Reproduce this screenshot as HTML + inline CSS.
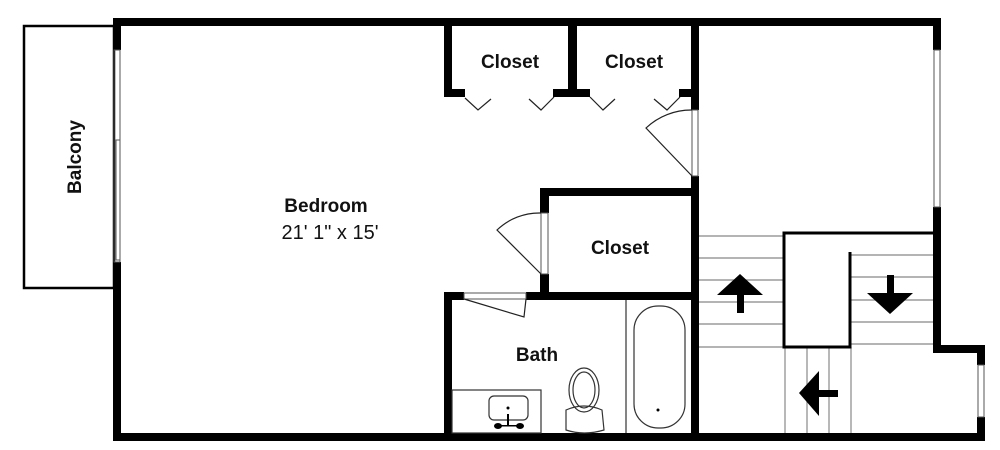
<!DOCTYPE html>
<html><head><style>body{margin:0;background:#fff}svg{display:block}text{font-family:"Liberation Sans",sans-serif;fill:#111}</style></head><body>
<svg width="1000" height="450" viewBox="0 0 1000 450" xmlns="http://www.w3.org/2000/svg">
<rect width="1000" height="450" fill="#fff"/>
<rect x="24" y="26" width="90" height="262" fill="none" stroke="#000" stroke-width="2.5"/>
<g fill="#000">
<rect x="113" y="18" width="828" height="8"/>
<rect x="113" y="18" width="8" height="32"/>
<rect x="113" y="262" width="8" height="179"/>
<rect x="113" y="433" width="872" height="8"/>
<rect x="933" y="18" width="8" height="32"/>
<rect x="933" y="207" width="8" height="146"/>
<rect x="933" y="345" width="52" height="8"/>
<rect x="977" y="345" width="8" height="20"/>
<rect x="977" y="417" width="8" height="24"/>
<rect x="691" y="18" width="8" height="92"/>
<rect x="691" y="176" width="8" height="265"/>
<rect x="444" y="18" width="8" height="79"/>
<rect x="444" y="89" width="21" height="8"/>
<rect x="568" y="18" width="9" height="79"/>
<rect x="553" y="89" width="37" height="8"/>
<rect x="679" y="89" width="13" height="8"/>
<rect x="540" y="188" width="159" height="8"/>
<rect x="540" y="188" width="9" height="25"/>
<rect x="540" y="274" width="9" height="26"/>
<rect x="444" y="292" width="20" height="8"/>
<rect x="526" y="292" width="173" height="8"/>
<rect x="444" y="292" width="8" height="149"/>
</g>
<g fill="none" stroke="#555" stroke-width="1">
<rect x="114" y="50" width="6" height="212"/>
<rect x="116" y="140" width="4" height="120"/>
<rect x="934" y="50" width="6" height="157"/>
<rect x="978" y="365" width="6" height="52"/>
<rect x="692" y="110" width="6" height="66"/>
<rect x="541" y="213" width="7" height="61"/>
<rect x="464" y="293" width="62" height="6"/>
</g>
<g fill="none" stroke="#222" stroke-width="1.2">
<polyline points="465,98 478,110 491,99"/>
<polyline points="529,99 541,110 554,97"/>
<polyline points="590,97 603,110 615,99"/>
<polyline points="654,99 667,110 680,97"/>
<path d="M692,110 A66,66 0 0 0 646,128 L692,176"/>
<path d="M541,213 A61,61 0 0 0 497,230 L541,274"/>
<path d="M464,299 L524,317 L526,299"/>
</g>
<g fill="none" stroke="#333" stroke-width="1.2">
<line x1="626" y1="300" x2="626" y2="433"/>
<rect x="634" y="306" width="51" height="122" rx="24"/>
<rect x="452" y="390" width="89" height="43"/>
<rect x="489" y="396" width="39" height="24" rx="5"/>
<ellipse cx="584" cy="390" rx="15" ry="22"/>
<ellipse cx="584" cy="390" rx="11" ry="18"/>
<path d="M566,410 Q584,402 602,410 L604,430 Q584,436 566,430 Z"/>
</g>
<circle cx="508" cy="408" r="1.5" fill="#000"/>
<circle cx="658" cy="410" r="1.5" fill="#000"/>
<g fill="#000"><ellipse cx="498" cy="426" rx="4" ry="3"/><ellipse cx="520" cy="426" rx="4" ry="3"/><rect x="507" y="414" width="2" height="12"/><rect x="498" y="425" width="22" height="1.5"/></g>
<g stroke="#888" stroke-width="1.2">
<line x1="699" y1="236" x2="783" y2="236"/><line x1="699" y1="258" x2="783" y2="258"/><line x1="699" y1="280" x2="783" y2="280"/><line x1="699" y1="302" x2="783" y2="302"/><line x1="699" y1="324" x2="783" y2="324"/><line x1="699" y1="347" x2="783" y2="347"/>
<line x1="850" y1="255" x2="933" y2="255"/><line x1="850" y1="277" x2="933" y2="277"/><line x1="850" y1="300" x2="933" y2="300"/><line x1="850" y1="322" x2="933" y2="322"/><line x1="850" y1="344" x2="933" y2="344"/>
<line x1="785" y1="347" x2="785" y2="433"/><line x1="807" y1="347" x2="807" y2="433"/><line x1="829" y1="347" x2="829" y2="433"/><line x1="851" y1="347" x2="851" y2="433"/>
</g>
<g fill="none" stroke="#000" stroke-width="3">
<path d="M850,252 L850,347 L784,347 L784,233 L933,233"/>
</g>
<g fill="#000">
<polygon points="740,274 717,295 763,295"/><rect x="737" y="294" width="7" height="19"/>
<polygon points="890,314 867,293 913,293"/><rect x="887" y="275" width="7" height="19"/>
<polygon points="799,393 819,371 819,416"/><rect x="818" y="390" width="20" height="7"/>
</g>
<g font-weight="bold" font-size="19">
<text x="510" y="68" text-anchor="middle">Closet</text>
<text x="634" y="68" text-anchor="middle">Closet</text>
<text x="620" y="254" text-anchor="middle">Closet</text>
<text x="326" y="212" text-anchor="middle">Bedroom</text>
<text x="537" y="361" text-anchor="middle">Bath</text>
<text transform="translate(81,157) rotate(-90)" text-anchor="middle">Balcony</text>
</g>
<text x="330" y="239" font-size="20" text-anchor="middle">21' 1" x 15'</text>
</svg>
</body></html>
